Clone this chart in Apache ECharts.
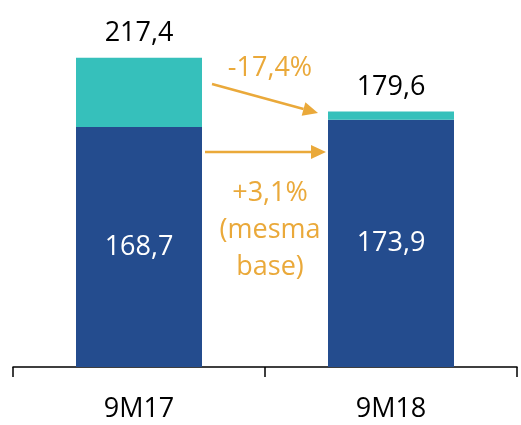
<!DOCTYPE html>
<html>
<head>
<meta charset="utf-8">
<script src="https://cdn.jsdelivr.net/npm/echarts@6/dist/echarts.min.js"></script>
<style>
  html, body { margin: 0; padding: 0; background: #fff; }
  #chart { width: 521px; height: 425px; }
</style>
</head>
<body>
<div id="chart"></div>
<script>
// dados
const categories = ['9M17', '9M18'];
const baseValues = [168.7, 173.9];   // mesma base
const extraValues = [48.7, 5.7];     // restante
const totals = [217.4, 179.6];

const FONT = '"Open Sans", "Noto Sans", sans-serif';
const ORANGE = '#EAA93A';
const FS = 27;

const fmt = v => v.toFixed(1).replace('.', ',');

// seta simples: linha + ponta triangular
function arrow(x1, y1, x2, y2) {
  const len = Math.hypot(x2 - x1, y2 - y1);
  const ux = (x2 - x1) / len, uy = (y2 - y1) / len;
  const head = 15, half = 7;
  const bx = x2 - ux * head, by = y2 - uy * head;
  return [
    {
      type: 'line',
      shape: { x1: x1, y1: y1, x2: bx, y2: by },
      style: { stroke: ORANGE, lineWidth: 2.5 }
    },
    {
      type: 'polygon',
      shape: { points: [[x2, y2], [bx - uy * half, by + ux * half], [bx + uy * half, by - ux * half]] },
      style: { fill: ORANGE }
    }
  ];
}

const chart = echarts.init(document.getElementById('chart'));

chart.setOption({
  animation: false,
  grid: { left: 13, right: 4, top: 0, bottom: 58 },
  xAxis: {
    type: 'category',
    data: categories,
    boundaryGap: true,
    axisLine: { show: true, lineStyle: { color: '#000', width: 1.5 } },
    axisTick: { show: true, alignWithLabel: false, interval: 0, length: 10, lineStyle: { color: '#000', width: 1.5 } },
    axisLabel: { color: '#000', fontSize: FS, fontFamily: FONT, margin: 29 }
  },
  yAxis: {
    type: 'value',
    min: 0,
    max: 258,
    show: false,
    splitLine: { show: false }
  },
  series: [
    {
      name: 'base',
      type: 'bar',
      stack: 'total',
      barWidth: 126,
      data: baseValues,
      itemStyle: { color: '#244C8E' },
      label: {
        show: true,
        position: 'inside',
        color: '#fff',
        fontSize: FS,
        fontFamily: FONT,
        formatter: p => fmt(p.value)
      }
    },
    {
      name: 'extra',
      type: 'bar',
      stack: 'total',
      barWidth: 126,
      data: extraValues,
      itemStyle: { color: '#36C0BB' },
      label: {
        show: true,
        position: 'top',
        distance: 11,
        color: '#000',
        fontSize: FS,
        fontFamily: FONT,
        formatter: p => fmt(totals[p.dataIndex])
      }
    }
  ],
  graphic: [
    ...arrow(212, 84, 318, 113),
    ...arrow(205, 152, 326, 152),
    {
      type: 'text',
      x: 270, y: 68,
      style: {
        text: '-17,4%', fill: ORANGE, fontSize: FS, fontFamily: FONT,
        align: 'center', verticalAlign: 'middle'
      }
    },
    {
      type: 'text',
      x: 270, y: 230,
      style: {
        text: '+3,1%\n(mesma\nbase)', fill: ORANGE, fontSize: FS, fontFamily: FONT,
        lineHeight: 37, align: 'center', verticalAlign: 'middle'
      }
    }
  ]
});
</script>
</body>
</html>
